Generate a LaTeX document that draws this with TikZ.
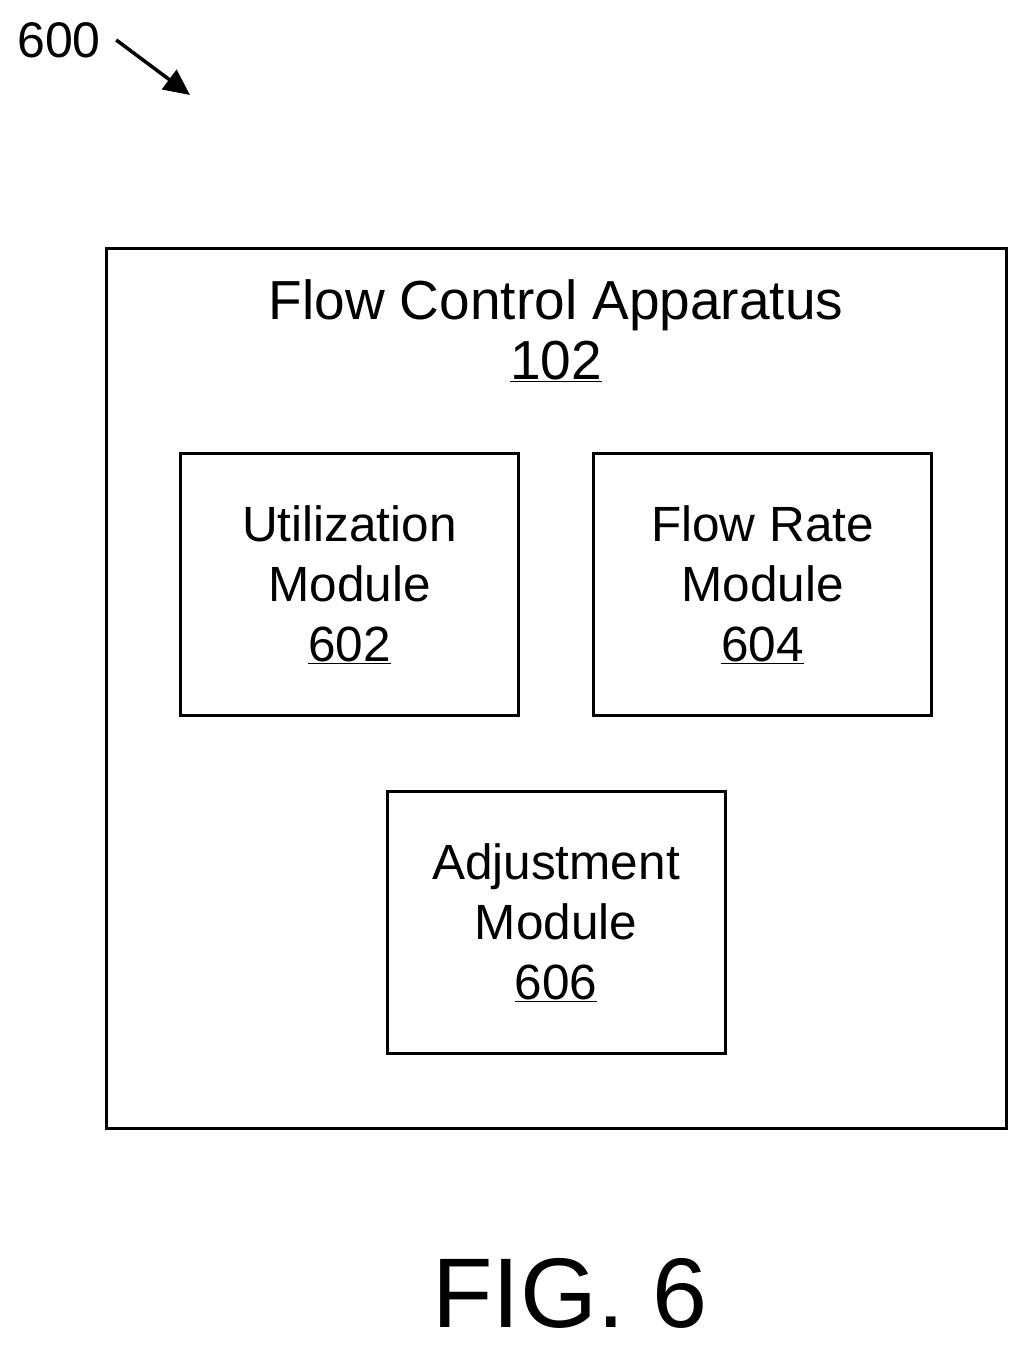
\documentclass[tikz,border=0pt]{standalone}
\usepackage{fontspec}
\setmainfont{Liberation Sans}
\usetikzlibrary{arrows.meta}
\usetikzlibrary{positioning}
\tikzset{
  >={Triangle[length=26pt,width=24pt]},
  module/.style={draw, line width=3pt, minimum width=338pt, minimum height=262pt,
                 align=center, font=\fontsize{49.5}{60}\selectfont},
  label/.style={font=\fontsize{55}{60}\selectfont, align=center}
}
\begin{document}
\begin{tikzpicture}[x=1pt, y=-1pt]
\useasboundingbox (0,0) rectangle (1028,1350);

% Reference number
\node[font=\fontsize{50}{56}\selectfont] (ref) at (59,40) {600};
\coordinate (tip) at (190,95);
\draw[->, line width=3.5pt] (ref.east) ++(12,0) -- (tip);

% Apparatus
\node[draw, line width=3pt, minimum width=900pt, minimum height=880pt] (apparatus) at (556,688) {};
\node[label] (title) at (556,331) {Flow Control Apparatus\\\underline{102}};

% Modules
\node[module] (util) at (349.5,584.5) {Utilization\\Module\\\underline{602}};
\node[module] (rate) at (762.5,584.5) {Flow Rate\\Module\\\underline{604}};
\node[module] (adjust) at (556,922.5) {Adjustment\\Module\\\underline{606}};

% Figure label
\node[font=\fontsize{99}{110}\selectfont] (fig) at (570,1293) {FIG. 6};
\end{tikzpicture}
\end{document}
